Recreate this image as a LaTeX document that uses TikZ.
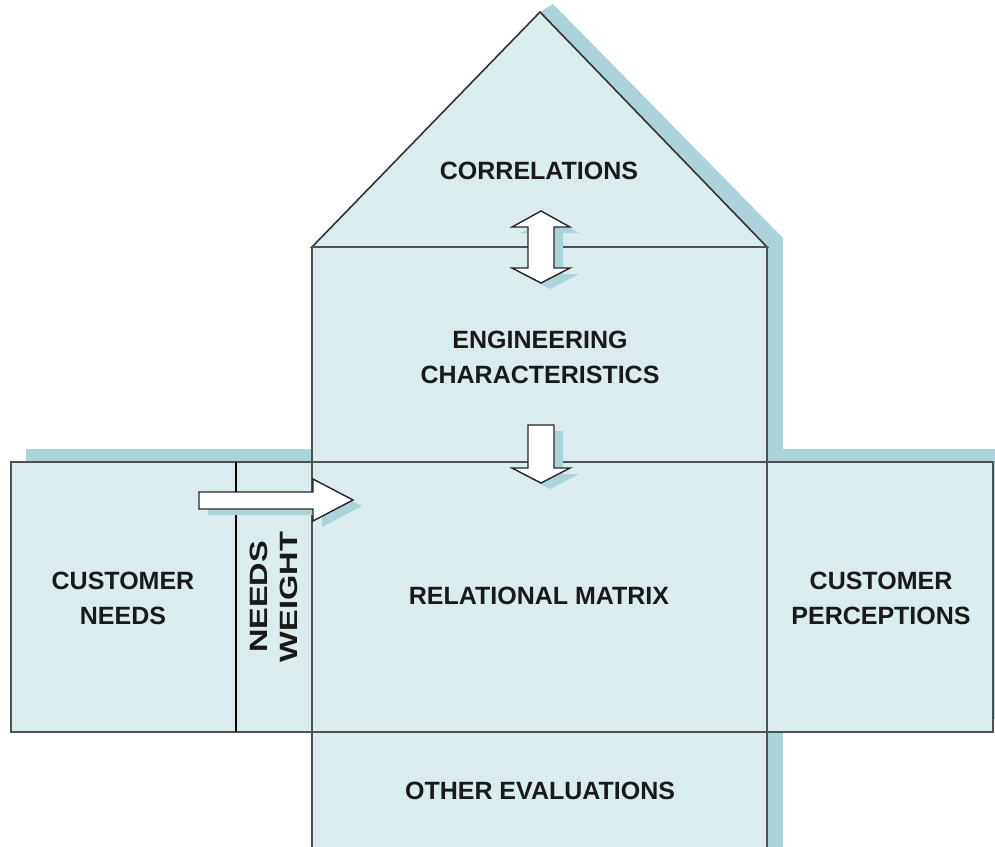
\documentclass[tikz,border=0pt]{standalone}
\usepackage{fontspec}
\setmainfont{Liberation Sans}
\usetikzlibrary{shadows}
\definecolor{housefill}{HTML}{DBECEF}
\definecolor{houseshadow}{HTML}{AAD3DA}
\definecolor{houseline}{HTML}{505050}

\begin{document}
\begin{tikzpicture}[x=1pt, y=-1pt,
    room/.style={fill=housefill, draw=houseline, line width=2pt},
    roomtext/.style={font=\fontsize{25}{35}\selectfont\bfseries, text=black!90, align=center},
    blockarrow/.style={fill=white, draw=black!85, line width=1.4pt,
      drop shadow={shadow xshift=9pt, shadow yshift=-6pt, fill=houseshadow, opacity=1}}]
  \useasboundingbox (0,0) rectangle (995,846);
  \clip (0,0) rectangle (995,846);

  % shadow behind the house
  \fill[houseshadow] (26,449) -- (320,449) -- (320,240) -- (540,12) -- (553,4) -- (783,238)
    -- (783,449) -- (1010,449) -- (1010,719) -- (783,719) -- (783,870) -- (320,870)
    -- (320,732) -- (26,732) -- cycle;

  % rooms
  \draw[room, draw=black!80, line width=1.6pt] (312,247) -- (540,12) -- (767,247) -- cycle;
  \foreach \xa/\ya/\xb/\yb in {312/247/767/462, 11/462/312/732, 312/462/767/732,
                               767/462/993/732, 312/732/767/870} {
    \draw[room] (\xa,\ya) rectangle (\xb,\yb);
  }
  \draw[black, line width=1.4pt] (236,462) -- (236,732);

  % texts
  \node[roomtext] (corr) at (539,171) {CORRELATIONS};
  \node[roomtext] (eng) at (540,357) {ENGINEERING\\CHARACTERISTICS};
  \node[roomtext] (matrix) at (539,596) {RELATIONAL MATRIX};
  \node[roomtext] (needs) at (123,598) {CUSTOMER\\NEEDS};
  \node[roomtext, font=\fontsize{25}{30}\selectfont\bfseries, rotate=90] (weight) at (274,597)
    {\scalebox{1.3}[1]{NEEDS}\\\scalebox{1.3}[1]{WEIGHT}};
  \node[roomtext] (percep) at (881,598) {CUSTOMER\\PERCEPTIONS};
  \node[roomtext] (other) at (540,791) {OTHER EVALUATIONS};

  % block arrows
  \draw[blockarrow] (541,211) -- (570,227) -- (554,227) -- (554,268) -- (570,268) -- (541,283)
    -- (512,268) -- (528,268) -- (528,227) -- (512,227) -- cycle;
  \draw[blockarrow] (528,425) -- (554,425) -- (554,468) -- (570,468) -- (541,483)
    -- (512,468) -- (528,468) -- cycle;
  \draw[blockarrow] (199,492) -- (313,492) -- (313,479) -- (353,500) -- (313,521)
    -- (313,509) -- (199,509) -- cycle;
\end{tikzpicture}
\end{document}
